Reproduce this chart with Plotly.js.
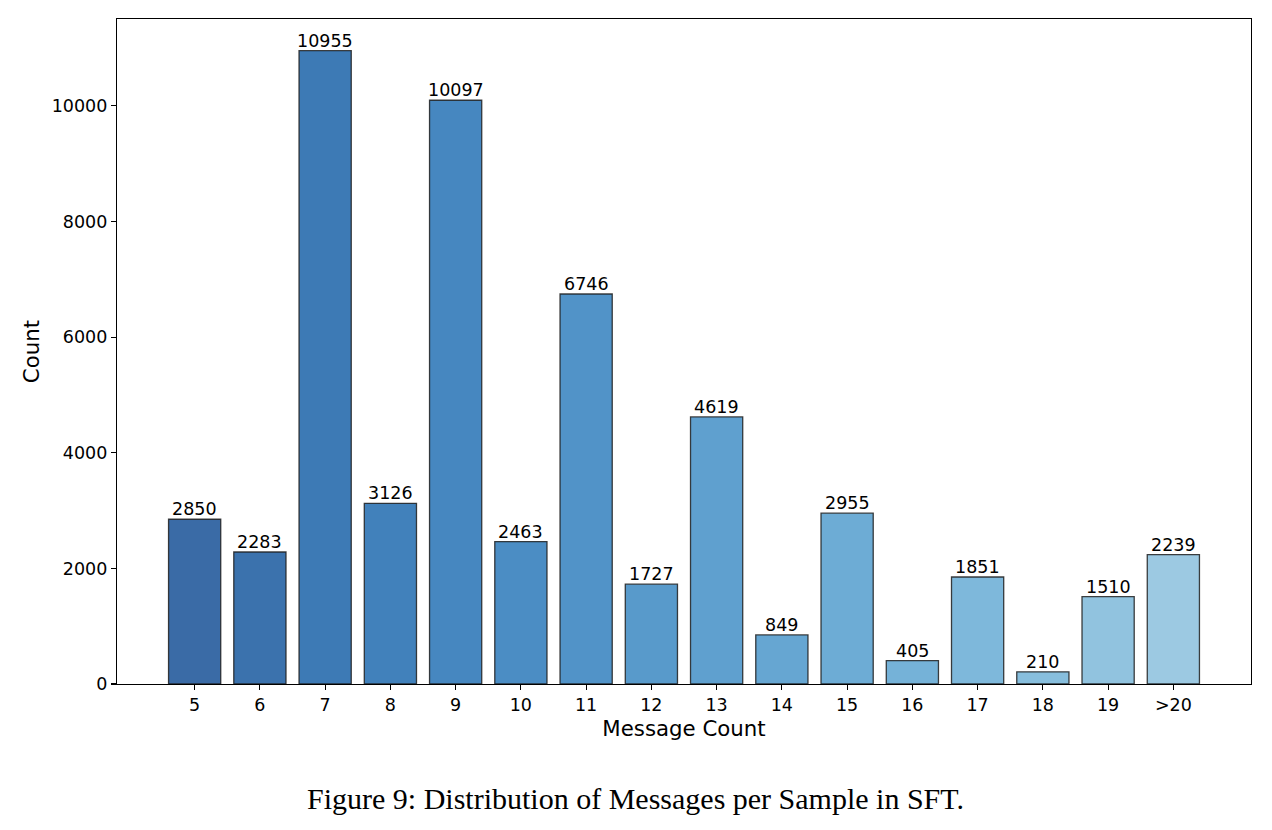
<!DOCTYPE html>
<html>
<head>
<meta charset="utf-8">
<script src="https://cdn.plot.ly/plotly-3.0.1.min.js"></script>
<style>
  html, body { margin: 0; padding: 0; background: #ffffff; }
  #chart { width: 1272px; height: 830px; }
</style>
</head>
<body>
<div id="chart"></div>
<script>
// Number of messages per SFT sample and how many samples fall in each bucket
const messageCounts = ['5', '6', '7', '8', '9', '10', '11', '12', '13', '14', '15', '16', '17', '18', '19', '>20'];
const sampleCounts = [2850, 2283, 10955, 3126, 10097, 2463, 6746, 1727, 4619, 849, 2955, 405, 1851, 210, 1510, 2239];

// Blues ramp, darkest on the left
const barColors = [
  '#3a6ba6', '#3b72ad', '#3d7ab5', '#4181bb', '#4687c0', '#4b8dc4', '#5193c8', '#589acb',
  '#5fa0cf', '#66a6d2', '#6dacd5', '#75b2d8', '#7eb8db', '#87bedd', '#91c3df', '#9cc9e2'
];

const FONT = 'DejaVu Sans, sans-serif';
const nBars = messageCounts.length;
const yMax = Math.max(...sampleCounts) * 1.05;
const positions = messageCounts.map((_, i) => i);

const trace = {
  type: 'bar',
  x: positions,
  y: sampleCounts,
  width: 0.8,
  marker: {
    color: barColors,
    line: { color: 'rgba(30,30,30,0.85)', width: 1.3 }
  },
  hoverinfo: 'x+y'
};

// Value labels sitting just above each bar
const valueLabels = sampleCounts.map((v, i) => ({
  x: positions[i],
  y: v,
  xref: 'x', yref: 'y',
  text: String(v),
  showarrow: false,
  xanchor: 'center',
  yanchor: 'bottom',
  yshift: -2,
  font: { family: FONT, size: 17.5, color: '#000000' }
}));

// Figure caption centred on the page below the axes
const caption = {
  text: 'Figure 9: Distribution of Messages per Sample in SFT.',
  xref: 'paper', yref: 'paper',
  x: 0.457, y: -0.172,
  xanchor: 'center', yanchor: 'middle',
  showarrow: false,
  font: { family: 'Liberation Serif, Times New Roman, serif', size: 30, color: '#000000' }
};

const layout = {
  width: 1272,
  height: 830,
  margin: { l: 117, r: 21, t: 19, b: 146 },
  paper_bgcolor: '#ffffff',
  plot_bgcolor: '#ffffff',
  showlegend: false,
  bargap: 0,
  font: { family: FONT, color: '#000000' },
  xaxis: {
    range: [-0.79 - 0.4, nBars - 1 + 0.4 + 0.79],
    tickmode: 'array',
    tickvals: positions,
    ticktext: messageCounts,
    ticks: 'outside',
    ticklen: 5,
    tickwidth: 1.2,
    tickcolor: '#000000',
    tickfont: { family: FONT, size: 17.5, color: '#000000' },
    showgrid: false,
    zeroline: false,
    showline: true,
    linecolor: '#000000',
    linewidth: 1.2,
    mirror: true,
    title: { text: 'Message Count', font: { family: FONT, size: 21.3, color: '#000000' }, standoff: 6 }
  },
  yaxis: {
    range: [0, yMax],
    tickmode: 'array',
    tickvals: [0, 2000, 4000, 6000, 8000, 10000],
    ticktext: ['0', '2000', '4000', '6000', '8000', '10000'],
    ticks: 'outside',
    ticklen: 5,
    tickwidth: 1.2,
    tickcolor: '#000000',
    tickfont: { family: FONT, size: 17.5, color: '#000000' },
    showgrid: false,
    zeroline: false,
    showline: true,
    linecolor: '#000000',
    linewidth: 1.2,
    mirror: true,
    title: { text: 'Count', font: { family: FONT, size: 21.3, color: '#000000' }, standoff: 6 }
  },
  annotations: valueLabels.concat([caption])
};

Plotly.newPlot('chart', [trace], layout, { displayModeBar: false, staticPlot: true });
</script>
</body>
</html>
